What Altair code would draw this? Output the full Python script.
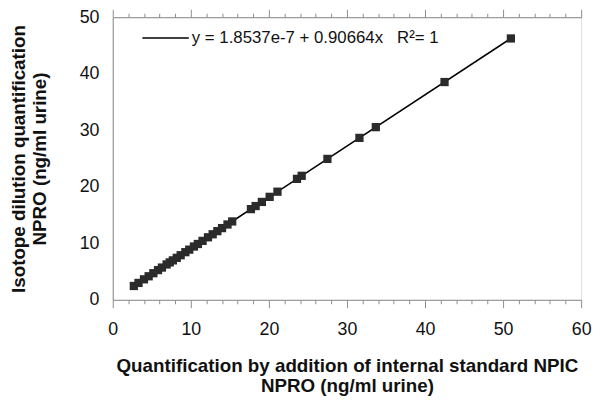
import altair as alt
import pandas as pd

x_vals = [2.7, 3.3, 4.0, 4.6, 5.2, 5.8, 6.3, 6.9, 7.3, 7.7, 8.2, 8.7, 9.3, 9.8,
          10.4, 10.9, 11.5, 12.2, 12.8, 13.4, 14.0, 14.7, 15.3, 17.7, 18.3, 19.1,
          20.1, 21.1, 23.6, 24.2, 27.5, 31.6, 33.7, 42.5, 51.0]
y_vals = [2.45, 2.99, 3.63, 4.17, 4.71, 5.26, 5.71, 6.26, 6.62, 6.98, 7.43, 7.89,
          8.43, 8.88, 9.43, 9.88, 10.43, 11.06, 11.60, 12.15, 12.69, 13.33, 13.87,
          16.05, 16.59, 17.32, 18.22, 19.13, 21.40, 21.94, 24.93, 28.65, 30.55,
          38.53, 46.24]
x_ticks = list(range(0, 61, 2))
y_ticks = [0, 10, 20, 30, 40, 50]
equation = "y = 1.8537e-7 + 0.90664x\u00a0\u00a0\u00a0R\u00b2= 1"
x_title = ["Quantification by addition of internal standard NPIC", "NPRO (ng/ml urine)"]
y_title = ["Isotope dilution quantification", "NPRO (ng/ml urine)"]

df = pd.DataFrame({"x": x_vals, "y": y_vals})

FONT = "Liberation Sans"
AX = "#8c8c8c"
TXT = "#111111"

tick_size = {"condition": {"test": "datum.value % 10 === 0", "value": 8}, "value": 4}

x_scale = alt.Scale(domain=[0, 60], nice=False, zero=False)
y_scale = alt.Scale(domain=[0, 50], nice=False)

y_axis = alt.Axis(values=y_ticks, ticks=False, grid=False, domainColor=AX,
                  labelFont=FONT, labelFontSize=18, labelColor=TXT, labelPadding=14,
                  title=y_title, titleFont=FONT, titleFontSize=19, titleFontWeight="bold",
                  titleColor=TXT, titleLineHeight=21, titleX=-89, titleBaseline="alphabetic")

x_axis_bottom = alt.Axis(values=x_ticks, grid=False, domainColor=AX, tickColor=AX,
                         tickSize=tick_size, labelFlush=False,
                         labelExpr="datum.value % 10 === 0 ? datum.label : ''",
                         labelFont=FONT, labelFontSize=18, labelColor=TXT, labelPadding=13,
                         title=x_title, titleFont=FONT, titleFontSize=19, titleFontWeight="bold",
                         titleColor=TXT, titleLineHeight=20, titleY=73, titleBaseline="alphabetic")

x_axis_top = alt.Axis(orient="top", values=x_ticks, grid=False, domainColor=AX, tickColor=AX,
                      tickSize=tick_size, labels=False, title=None)

line = alt.Chart(df).transform_regression("x", "y").transform_calculate(
    label="'" + equation + "'"
).mark_line(strokeWidth=1.6).encode(
    x=alt.X("x:Q", scale=x_scale, axis=x_axis_top),
    y=alt.Y("y:Q", scale=y_scale, axis=y_axis),
    color=alt.Color("label:N", scale=alt.Scale(range=["black"]),
                    legend=alt.Legend(orient="none", legendX=29, legendY=-3.5, title=None,
                                      symbolType="stroke", symbolSize=2209,
                                      symbolStrokeWidth=1.6, labelFont=FONT,
                                      labelFontSize=17, labelColor=TXT, labelOffset=2,
                                      padding=0, labelLimit=400)),
)

points = alt.Chart(df).mark_point(shape="square", filled=True, size=70, color="#2b2b2b",
                                  opacity=1).encode(
    x=alt.X("x:Q", scale=x_scale, axis=x_axis_bottom),
    y=alt.Y("y:Q", scale=y_scale, axis=y_axis),
)

chart = alt.layer(line, points).resolve_axis(x="independent").properties(
    width=474, height=286,
    autosize=alt.AutoSizeParams(type="none"),
    padding={"left": 106, "top": 7, "right": 12, "bottom": 95},
).configure_view(stroke=AX).configure(background="white")

chart.save("out.html", embed_options={"renderer": "svg", "actions": False})
